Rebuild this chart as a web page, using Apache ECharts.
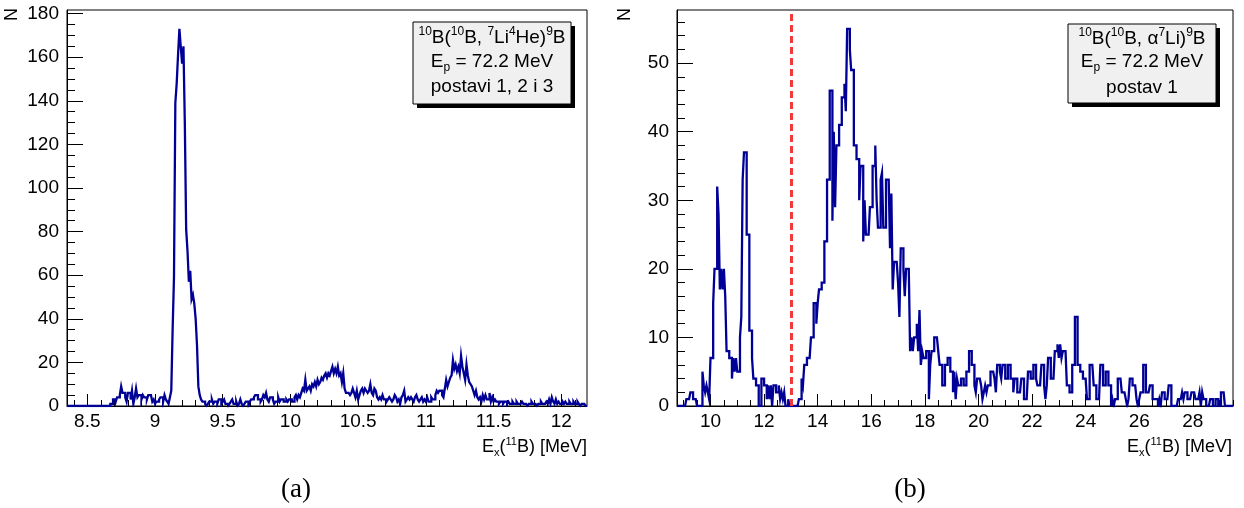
<!DOCTYPE html>
<html>
<head>
<meta charset="utf-8">
<script src="https://cdn.jsdelivr.net/npm/echarts@6/dist/echarts.min.js"></script>
<style>
html,body{margin:0;padding:0;background:#fff;}
#c{width:1244px;height:508px;}
</style>
</head>
<body>
<div id="c"></div>
<script>
// ---------------- DATA ----------------
// Panel (a): 10B(10B,7Li4He)9B, bins of 0.01 MeV starting at 8.35 MeV
const leftBinStart = 8.35;
const leftBinWidth = 0.01;
const leftCounts = [
  0,0,0,0,0,0,0,0,0,0, 0,0,0,0,0,0,0,0,0,0, 0,0,0,0,0,0,0,0,0,0, 0,0,
  1,1,3,3,2,4,4,5,9,6, 6,4,2,6,6,3,7,1,4,8, 4,5,5,3,5,4,4,3,5,5,
  5,2,3,1,2,2,3,4,4,2, 5,3,2,1,4,7,
  35,59,139,148,161,173,165,157,165,130, 81,71,57,62,49,51,47,40,28,9, 5,3,
  2,2,1,0,1,2,2,3,1,2, 2,1,3,3,1,2,3,1,1,0, 1,2,3,1,1,2,0,1,3,1,
  0,1,2,2,0,2,3, 3,4,5,5,3,3,2,3,5,4, 6,3,2,4,4,3,1,2,2,4,
  2,3,3,2,2,3,2,3,3,2, 2,4,5,3,5,4,6,8,7,
  12,7,8,9,7,10,9,11,9,12, 10,11,13,12,14,15,13,15,14,16, 18,15,17,15,18,
  14,15,11,15,8,6,6,6,5,6, 8,6,4,7,3,5,7,8,6,8, 7,6,7,10,6,5,8,7,4,3,
  4,3,5,3,3,2,3,4,3,2, 3,5,4,2,3,1,4,5,7,2, 3,4,3,4,3,2,4,5,3,2, 3,4,2,3,
  2,4,2,2,4,3,3,5,7,6, 7,7,5,4,8,12,9,11,13,14, 21,17,19,16,18,15,23,18,15,12,
  19,14,11,10,9,7,5,7,4,3, 4,2,5,3,5,3,3,6,2,4, 2,
  3,2,2,1,2,2,1,2,2,1, 2,1,1,2,1,1,2,1,1,1, 2,1,1,1,0,1,1,2,1,1,
  1,0,1,1,2,1,1,1,2,1, 3,1,4,2,1,3,1,2,1,1, 2,1,2,1,1,2,1,1,2,1,
  1,2,1,0,1,1,1,0
];
const leftXTickLabels = [8.5, 9, 9.5, 10, 10.5, 11, 11.5, 12];
const leftYTickLabels = [0, 20, 40, 60, 80, 100, 120, 140, 160, 180];

// Panel (b): 10B(10B,a7Li)9B, bins of 0.05 MeV starting at 8.75 MeV
const rightBinStart = 8.75;
const rightBinWidth = 0.05;
const rightCounts = [
  0,0,0,0,0,0,0,1,1,1, 2,2,1,1,1,0,0,0,0,5, 3,2,3,2,1,7,7,15,20,20,
  32,28,17,20,17,20,16,8,8,7, 7,4,7,5,7,5,5,10,13,33, 37,37,25,25,11,11,7,4,4,3,
  3,0,0,4,4,3,3,1,3,1, 3,0,3,3,2,2,3,1,2,1, 2,0,0,1,0,0,0,0,0,0,
  0,1,1,4,3,6,6,7,7,7, 10,10,15,15,12,15,17,17,18,18, 24,24,33,33,46,46,27,40,29,38,
  38,41,41,45,45,47,43,55,55,52, 49,49,38,38,36,36,30,35,35,24, 30,25,25,25,29,29,35,35,38,30,
  26,26,33,34,26,26,33,33,33,23, 31,17,21,21,21,18,13,23,23,20, 16,20,20,20,8,10,8,10,10,12,
  8,14,6,8,7,7,8,8,1,6, 8,8,10,10,10,8,6,6,3,3, 6,6,7,7,5,5,2,5,1,4,
  3,3,4,4,3,3,5,5,8,8, 6,6,3,2,4,4,4,3,1,2, 3,2,3,3,5,5,5,4,2,6,
  6,5,4,6,6,4,4,6,6,4, 4,2,4,4,2,2,2,4,4,1, 1,1,5,5,4,4,6,6,4,3,
  3,3,6,6,3,1,3,7,7,4, 4,4,8,8,9,7,9,7,8,8, 8,3,3,2,2,6,6,13,13,6,
  6,5,5,4,4,4,1,1,6,6, 6,3,3,1,1,1,6,6,3,3, 5,5,3,3,0,1,0,1,1,4,
  4,4,2,2,2,1,0,1,4,4, 3,3,3,1,0,1,2,2,6,6, 2,2,2,3,3,1,1,1,1,0,
  1,0,2,2,1,1,1,3,3,0, 0,0,0,0,1,1,1,2,1,2, 2,1,1,1,2,2,2,1,1,1,
  2,0,2,1,1,0,0,0,1,1, 0,0,1,1,0,0,2,2,2,0, 0,0,0,0,0
];
const rightXTickLabels = [10, 12, 14, 16, 18, 20, 22, 24, 26, 28];
const rightYTickLabels = [0, 10, 20, 30, 40, 50];
const cutEnergy = 13;

// ---------------- BUILD ----------------
function histPoints(start, w, counts) {
  const pts = counts.map((c, i) => [+(start + i * w).toFixed(4), c]);
  pts.push([+(start + counts.length * w).toFixed(4), counts[counts.length - 1]]);
  return pts;
}
function range(a, b, step) {
  const out = [];
  const n = Math.round((b - a) / step);
  for (let i = 0; i <= n; i++) out.push(+(a + i * step).toFixed(4));
  return out;
}

const FONT = '"Liberation Sans", Arial, Helvetica, sans-serif';
const LINE = '#000096';
const TICKFONT = 19;

function majorX(grid, min, max, ticks) {
  return {
    type: 'value', gridIndex: grid, min: min, max: max, position: 'bottom',
    axisLine: { show: true, onZero: false, lineStyle: { color: '#000', width: 1 } },
    axisTick: { show: true, inside: true, length: 12, customValues: ticks, lineStyle: { color: '#000', width: 1 } },
    axisLabel: { show: true, customValues: ticks, margin: 6, color: '#000', fontSize: TICKFONT, fontFamily: FONT },
    splitLine: { show: false }, minorTick: { show: false }
  };
}
function minorX(grid, min, max, ticks) {
  return {
    type: 'value', gridIndex: grid, min: min, max: max, position: 'bottom', offset: 0,
    axisLine: { show: false, onZero: false },
    axisTick: { show: true, inside: true, length: 6, customValues: ticks, lineStyle: { color: '#000', width: 1 } },
    axisLabel: { show: false }, splitLine: { show: false }
  };
}
function majorY(grid, min, max, ticks) {
  return {
    type: 'value', gridIndex: grid, min: min, max: max, position: 'left',
    axisLine: { show: true, onZero: false, lineStyle: { color: '#000', width: 1 } },
    axisTick: { show: true, inside: true, length: 16, customValues: ticks, lineStyle: { color: '#000', width: 1 } },
    axisLabel: { show: true, customValues: ticks, margin: 8, color: '#000', fontSize: TICKFONT, fontFamily: FONT },
    splitLine: { show: false }, minorTick: { show: false }
  };
}
function minorY(grid, min, max, ticks) {
  return {
    type: 'value', gridIndex: grid, min: min, max: max, position: 'left', offset: 0,
    axisLine: { show: false, onZero: false },
    axisTick: { show: true, inside: true, length: 8, customValues: ticks, lineStyle: { color: '#000', width: 1 } },
    axisLabel: { show: false }, splitLine: { show: false }
  };
}

const L = { xmin: 8.35, xmax: 12.19, ymax: 181.65 };
const R = { xmin: 8.75, xmax: 29.5, ymax: 57.75 };

const richBase = {
  n: { fontSize: 19, fontFamily: FONT, lineHeight: 24, verticalAlign: 'middle', fill: '#000', color: '#000' },
  s: { fontSize: 12, fontFamily: FONT, lineHeight: 12, verticalAlign: 'top', fill: '#000', color: '#000' },
  b: { fontSize: 12, fontFamily: FONT, lineHeight: 12, verticalAlign: 'bottom', fill: '#000', color: '#000' }
};
const richAxis = {
  n: { fontSize: 18, fontFamily: FONT, lineHeight: 22, verticalAlign: 'middle', fill: '#000', color: '#000' },
  s: { fontSize: 11, fontFamily: FONT, lineHeight: 11, verticalAlign: 'top', fill: '#000', color: '#000' },
  b: { fontSize: 11, fontFamily: FONT, lineHeight: 11, verticalAlign: 'bottom', fill: '#000', color: '#000' }
};

function txt(x, y, text, rich, extra) {
  return {
    type: 'text', silent: true, z: 100,
    style: Object.assign({
      x: x, y: y, text: text, rich: rich, fill: '#000',
      align: 'center', verticalAlign: 'middle', textAlign: 'center', textVerticalAlign: 'middle',
      fontFamily: FONT, fontSize: 19
    }, extra || {})
  };
}
function pave(x, y, w, h, lines) {
  const cx = x + w / 2;
  const els = [
    { type: 'rect', silent: true, z: 98, shape: { x: x + 4, y: y + 4, width: w, height: h }, style: { fill: '#000' } },
    { type: 'rect', silent: true, z: 99, shape: { x: x, y: y, width: w, height: h }, style: { fill: '#f0f0f0', stroke: '#000', lineWidth: 1 } }
  ];
  lines.forEach(l => els.push(txt(cx, l[0], l[1], richBase)));
  return els;
}

const graphics = []
  .concat(pave(413, 22, 158, 82, [
    [38, '{s|10}{n|B(}{s|10}{n|B, }{s|7}{n|Li}{s|4}{n|He)}{s|9}{n|B}'],
    [62, '{n|E}{b|p}{n| = 72.2 MeV}'],
    [87, '{n|postavi 1, 2 i 3}']
  ]))
  .concat(pave(1068, 24, 148, 79, [
    [39, '{s|10}{n|B(}{s|10}{n|B, α}{s|7}{n|Li)}{s|9}{n|B}'],
    [62, '{n|E}{b|p}{n| = 72.2 MeV}'],
    [88, '{n|postav 1}']
  ]))
  .concat([
    txt(587, 447, '{n|E}{b|x}{n|(}{s|11}{n|B) [MeV]}', richAxis, { align: 'right', textAlign: 'right' }),
    txt(1232, 447, '{n|E}{b|x}{n|(}{s|11}{n|B) [MeV]}', richAxis, { align: 'right', textAlign: 'right' }),
    Object.assign(txt(0, 0, 'N', null, { align: 'right', textAlign: 'right', fontSize: 18 }), { x: 12, y: 8, rotation: Math.PI / 2 }),
    Object.assign(txt(0, 0, 'N', null, { align: 'right', textAlign: 'right', fontSize: 18 }), { x: 625, y: 8, rotation: Math.PI / 2 }),
    txt(296, 490, '(a)', null, { fontFamily: '"Liberation Serif", "DejaVu Serif", serif', fontSize: 27 }),
    txt(910, 490, '(b)', null, { fontFamily: '"Liberation Serif", "DejaVu Serif", serif', fontSize: 27 })
  ]);

const option = {
  backgroundColor: '#fff',
  animation: false,
  grid: [
    { left: 67, top: 10, width: 520, height: 396, show: true, borderColor: '#000', borderWidth: 1, backgroundColor: 'rgba(0,0,0,0)' },
    { left: 677, top: 10, width: 556, height: 396, show: true, borderColor: '#000', borderWidth: 1, backgroundColor: 'rgba(0,0,0,0)' }
  ],
  xAxis: [
    majorX(0, L.xmin, L.xmax, leftXTickLabels),
    minorX(0, L.xmin, L.xmax, range(8.4, 12.1, 0.1)),
    majorX(1, R.xmin, R.xmax, rightXTickLabels),
    minorX(1, R.xmin, R.xmax, range(9, 29.5, 0.5))
  ],
  yAxis: [
    majorY(0, 0, L.ymax, leftYTickLabels),
    minorY(0, 0, L.ymax, range(0, 180, 5)),
    majorY(1, 0, R.ymax, rightYTickLabels),
    minorY(1, 0, R.ymax, range(0, 56, 2))
  ],
  series: [
    {
      type: 'line', xAxisIndex: 0, yAxisIndex: 0, step: 'end',
      data: histPoints(leftBinStart, leftBinWidth, leftCounts),
      showSymbol: false, symbol: 'none', silent: true, clip: true,
      lineStyle: { color: LINE, width: 2.3, join: 'miter' }
    },
    {
      type: 'line', xAxisIndex: 2, yAxisIndex: 2, step: 'end',
      data: histPoints(rightBinStart, rightBinWidth, rightCounts),
      showSymbol: false, symbol: 'none', silent: true, clip: true,
      lineStyle: { color: LINE, width: 2.3, join: 'miter' },
      markLine: {
        silent: true, symbol: ['none', 'none'], label: { show: false },
        lineStyle: { color: '#f23a3a', type: [7, 4], width: 3 },
        data: [{ xAxis: cutEnergy }]
      }
    }
  ],
  graphic: graphics
};

const chart = echarts.init(document.getElementById('c'), null, { renderer: 'canvas' });
chart.setOption(option);
</script>
</body>
</html>
